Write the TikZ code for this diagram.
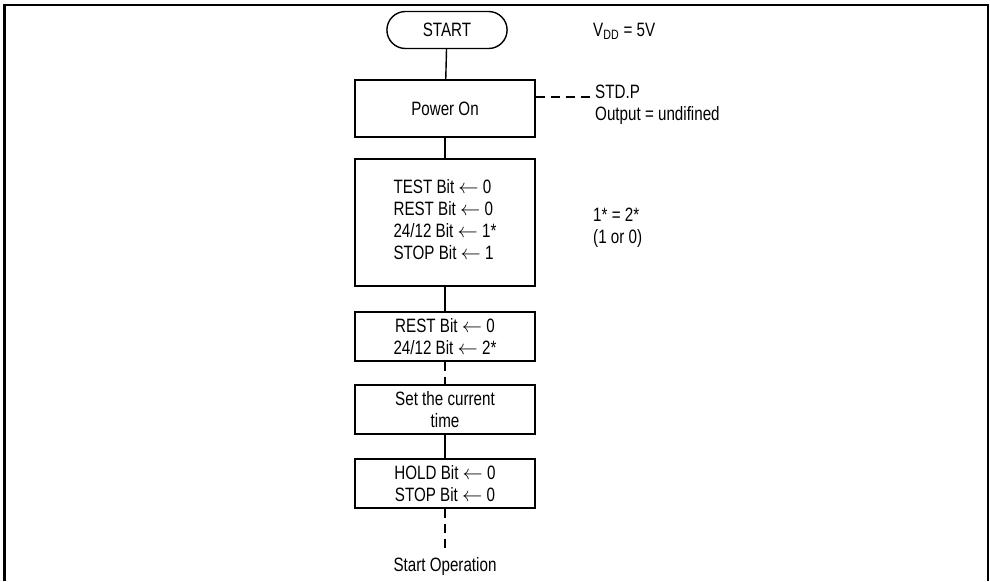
\documentclass[tikz,border=0pt]{standalone}
\usepackage{fontspec}
\setmainfont{Liberation Sans}[FakeStretch=0.785]
\usetikzlibrary{shapes.misc, positioning}

\begin{document}
\begin{tikzpicture}[
    x=0.03cm, y=-0.03cm,
    font=\fontsize{16.5}{18.8}\selectfont,
    term/.style={rounded rectangle, draw, line width=1.2pt,
                 minimum width=3.84cm, minimum height=1.11cm},
    stepbox/.style={rectangle, draw, line width=1.2pt, inner sep=0pt,
                    minimum width=5.4cm, align=center},
    note/.style={anchor=west, align=left, inner sep=0pt},
    fl/.style={line width=1.2pt},
    dfl/.style={line width=1.2pt, dash pattern=on 2.7mm off 1.8mm}
]
\useasboundingbox (0,0) rectangle (990,581);
\draw[line width=1.8pt] (4.5,581) -- (4.5,5) -- (988,5) -- (988,581);

\node[term] (start) at (447,30) {START};
\node[stepbox, minimum height=1.71cm] (power) at (445,108.5) {Power On};
\node[stepbox, minimum height=3.81cm] (initbits) at (445,222.5)
    {\begin{tabular}{@{}l@{}}TEST Bit $\leftarrow$ 0\\REST Bit $\leftarrow$ 0\\
     24/12 Bit $\leftarrow$ 1*\\STOP Bit $\leftarrow$ 1\end{tabular}};
\node[stepbox, minimum height=1.47cm] (restbits) at (445,336.5)
    {REST Bit $\leftarrow$ 0\\24/12 Bit $\leftarrow$ 2*};
\node[stepbox, minimum height=1.47cm] (settime) at (445,409.5)
    {Set the current\\time};
\node[stepbox, minimum height=1.47cm] (holdbits) at (445,483.5)
    {HOLD Bit $\leftarrow$ 0\\STOP Bit $\leftarrow$ 0};
\node[inner sep=0pt] (startop) at (445,566) {Start Operation};

% side notes
\node[note] (vdd) at (593,31) {V\textsubscript{DD} = 5V};
\node[note] (stdp) at (595,105) {STD.P\\Output = undifined};
\node[note] (same) at (593,227.5) {1* = 2*\\(1 or 0)};
\coordinate (dashend) at (590,97);

\draw[fl] (start) -- (power);
\draw[fl] (power) -- (initbits);
\draw[fl] (initbits) -- (restbits);
\draw[dfl] (restbits) -- (settime);
\draw[fl] (settime) -- (holdbits);
\draw[dfl] (holdbits) -- ([yshift=0.25cm]startop.north);
\draw[dfl] (power.east |- dashend) -- (dashend);
\end{tikzpicture}
\end{document}
